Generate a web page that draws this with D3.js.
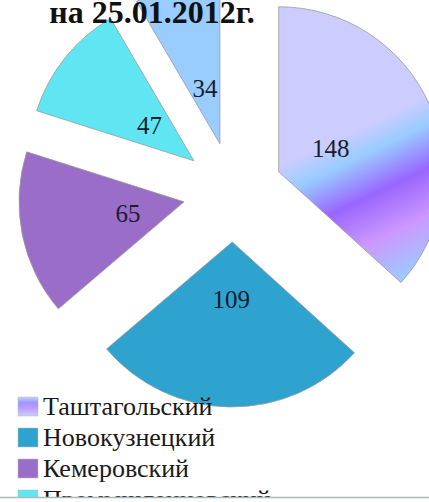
<!DOCTYPE html>
<html>
<head>
<meta charset="utf-8">
<script src="https://cdn.jsdelivr.net/npm/d3@7"></script>
</head>
<body style="margin:0; background:#fff">
<div id="vis"></div>
<script>
// pie of districts, exploded slices

const FRAME_WIDTH = 429;
const FRAME_HEIGHT = 502;
const CENTER = {x: 233, y: 192};
const RADIUS = 165;
const EXPLODE = 50;
const SERIF = "'Liberation Serif'";

const districts = ["Таштагольский", "Новокузнецкий", "Кемеровский", "Промышленновский", "Прокопьевский"];
const values = [148, 109, 65, 47, 34];
const colors = ["url(#grad148)", "#2ea3cf", "#9a6dc8", "#5fe6f2", "#99ccff"];
const title = "на 25.01.2012г.";

const svg = d3.select("#vis")
  .append("svg")
    .attr("width", FRAME_WIDTH)
    .attr("height", FRAME_HEIGHT)
    .style("display", "block");

// gradient for the first slice (local coords of the slice)
const defs = svg.append("defs");
const grad = defs.append("linearGradient")
    .attr("id", "grad148")
    .attr("gradientUnits", "userSpaceOnUse")
    .attr("x1", -11).attr("y1", -23)
    .attr("x2", 67).attr("y2", 140);
[[0, "#ccccff"], [0.12, "#ccccff"], [0.26, "#99ccff"], [0.48, "#9966ff"],
 [0.72, "#cc99ff"], [0.98, "#99ccff"]].forEach(s => {
  grad.append("stop").attr("offset", s[0]).attr("stop-color", s[1]);
});
const gradLeg = defs.append("linearGradient")
    .attr("id", "gradLeg")
    .attr("x1", 0).attr("y1", 0).attr("x2", 0).attr("y2", 1);
[[0, "#ccccff"], [0.3, "#9999ff"], [0.55, "#bb99ff"], [1, "#ccccff"]].forEach(s => {
  gradLeg.append("stop").attr("offset", s[0]).attr("stop-color", s[1]);
});

const pie = d3.pie().sort(null).startAngle(0).endAngle(2 * Math.PI);
const arcs = pie(values);
const arc = d3.arc().innerRadius(0).outerRadius(RADIUS);

function offset(d) {
  const mid = (d.startAngle + d.endAngle) / 2;
  return [CENTER.x + EXPLODE * Math.sin(mid), CENTER.y - EXPLODE * Math.cos(mid)];
}

const slices = svg.selectAll(".slice")
  .data(arcs)
  .enter()
  .append("g")
    .attr("class", "slice")
    .attr("transform", d => "translate(" + offset(d) + ")");

slices.append("path")
    .attr("d", arc)
    .attr("fill", (d, i) => colors[i])
    .attr("stroke", "#9a9a9a")
    .attr("stroke-width", 0.8);

slices.append("text")
    .attr("x", d => 57 * Math.sin((d.startAngle + d.endAngle) / 2))
    .attr("y", d => -57 * Math.cos((d.startAngle + d.endAngle) / 2))
    .attr("dy", "0.35em")
    .attr("text-anchor", "middle")
    .style("font-family", SERIF)
    .style("font-size", "25px")
    .attr("fill", "#1c1c30")
    .text(d => d.data);

// title
svg.append("text")
    .attr("x", 152)
    .attr("y", 23)
    .attr("text-anchor", "middle")
    .style("font-family", SERIF)
    .style("font-weight", "bold")
    .style("font-size", "32px")
    .attr("fill", "#111")
    .text(title);

// legend
const legend = svg.selectAll(".leg")
  .data(districts.slice(0, 4))
  .enter()
  .append("g")
    .attr("class", "leg")
    .attr("transform", (d, i) => "translate(18," + (397 + i * 31) + ")");

legend.append("rect")
    .attr("width", 20).attr("height", 19)
    .attr("fill", (d, i) => i === 0 ? "url(#gradLeg)" : colors[i])
    .attr("stroke", "#bbb")
    .attr("stroke-width", 0.5);

legend.append("text")
    .attr("x", 25)
    .attr("y", 18)
    .style("font-family", SERIF)
    .style("font-size", "26px")
    .attr("fill", "#1a1a1a")
    .text(d => d);

// bottom strip hiding the cut legend
svg.append("rect")
    .attr("x", 0).attr("y", 497)
    .attr("width", FRAME_WIDTH).attr("height", 5)
    .attr("fill", "#fff");
svg.append("line")
    .attr("x1", 0).attr("x2", FRAME_WIDTH)
    .attr("y1", 497.5).attr("y2", 497.5)
    .attr("stroke", "#a9b9b9")
    .attr("stroke-width", 1.5);
</script>
</body>
</html>
